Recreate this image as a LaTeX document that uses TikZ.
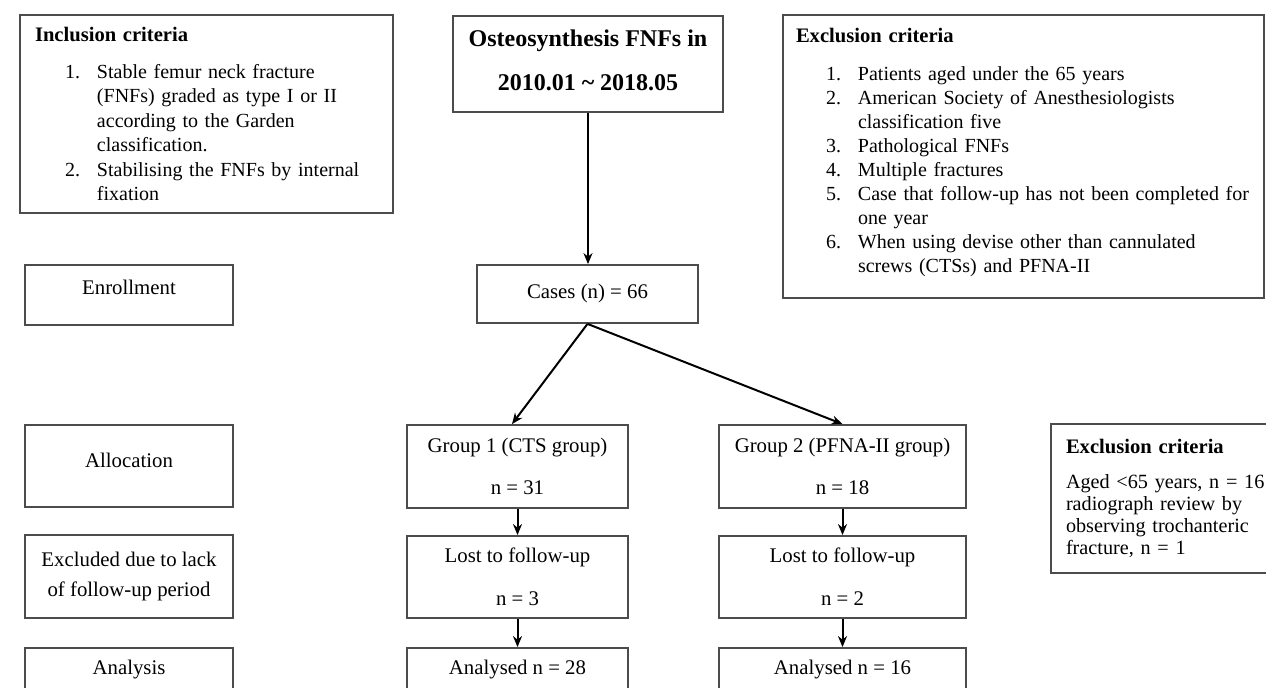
\documentclass[tikz,border=0pt]{standalone}
\usepackage{fontspec}
\setmainfont{Liberation Serif}
\usetikzlibrary{arrows.meta}
\newcommand{\critem}[2]{\mbox{\hspace*{15pt}\makebox[16pt][l]{#1}#2}}
\newcommand{\crcont}[1]{\mbox{\hspace*{31pt}#1}}
\newcommand{\crtitle}[1]{{\fontsize{10.3}{12}\selectfont\textbf{#1}}}
\newcommand{\lift}[1]{\rule[-#1]{0pt}{#1}}
\tikzset{
  box/.style={draw=black!70,line width=0.9pt,inner sep=0pt,align=center},
  crit/.style={box,align=left,inner xsep=7.5pt},
  flow/.style={-{Stealth[length=5.5pt,width=4.5pt]},line width=1pt},
}
\begin{document}
\begin{tikzpicture}[x=0.5pt,y=-0.5pt,font=\fontsize{10.4}{12.25}\selectfont]
  % Coordinates are pixels of the 1266x688 scan, y grows downwards.
  \useasboundingbox (0,0) rectangle (1266,688);
  \clip (0,0) rectangle (1266,688);
  \fill[white] (0,0) rectangle (1266,688);
  \node[crit,text width=171.5pt,minimum height=99pt,font=\fontsize{10}{12.25}\selectfont] (incl) at (206.5,114) {\crtitle{Inclusion criteria}\\[6pt]
    \critem{1.}{Stable femur neck fracture}\\ \crcont{(FNFs) graded as type I or II}\\
    \crcont{according to the Garden}\\ \crcont{classification.}\\
    \critem{2.}{Stabilising the FNFs by internal}\\ \crcont{fixation}};
  \node[box,minimum width=135pt,minimum height=48pt,font=\bfseries\fontsize{12}{22}\selectfont] (ost) at (588,64) {Osteosynthesis FNFs in\\2010.01 \textasciitilde\ 2018.05\lift{4pt}};
  \node[crit,inner xsep=6.5pt,text width=227.5pt,minimum height=141.5pt,font=\fontsize{10}{12}\selectfont] (excl) at (1023.5,156.5) {\crtitle{Exclusion criteria}\\[7pt]
    \critem{1.}{Patients aged under the 65 years}\\ \critem{2.}{American Society of Anesthesiologists}\\
    \crcont{classification five}\\ \critem{3.}{Pathological FNFs}\\ \critem{4.}{Multiple fractures}\\
    \critem{5.}{Case that follow-up has not been completed for}\\ \crcont{one year}\\
    \critem{6.}{When using devise other than cannulated}\\ \crcont{screws (CTSs) and PFNA-II}\lift{6pt}};
  % left column of stages
  \node[box,minimum width=104pt,minimum height=30pt,text depth=8pt] (enrol) at (129,295) {Enrollment};
  \node[box,minimum width=104pt,minimum height=41pt,text depth=6pt] (alloc) at (129,466) {Allocation};
  \node[box,minimum width=104pt,minimum height=41.5pt,font=\fontsize{10.4}{15}\selectfont] (lack) at (129,576.5) {Excluded due to lack\\of follow-up period};
  \node[box,minimum width=104pt,minimum height=21.5pt] (anal) at (129,669.5) {Analysis};
  % flow of cases
  \node[box,minimum width=110.5pt,minimum height=29pt] (cases) at (587.5,294) {Cases (n) = 66};
  \node[box,minimum width=110.5pt,minimum height=41.5pt,font=\fontsize{10.4}{21}\selectfont] (g1) at (517.5,466.5) {Group 1 (CTS group)\\n = 31};
  \node[box,minimum width=110.5pt,minimum height=41pt,font=\fontsize{10.4}{21.5}\selectfont] (lost1) at (517.5,577) {Lost to follow-up\\n = 3};
  \node[box,minimum width=110.5pt,minimum height=21.5pt] (an1) at (517.5,669.5) {Analysed n = 28};
  \node[box,minimum width=123.5pt,minimum height=41.5pt,font=\fontsize{10.4}{21}\selectfont] (g2) at (842.5,466.5) {Group 2 (PFNA-II group)\\n = 18};
  \node[box,minimum width=123.5pt,minimum height=41pt,font=\fontsize{10.4}{21.5}\selectfont] (lost2) at (842.5,577) {Lost to follow-up\\n = 2};
  \node[box,minimum width=123.5pt,minimum height=21.5pt] (an2) at (842.5,669.5) {Analysed n = 16};
  \node[crit,text width=110pt,minimum height=74.5pt,font=\fontsize{10.1}{11}\selectfont] (excl2) at (1176,498.5) {\crtitle{Exclusion criteria}\\[6.5pt]
    Aged <65 years, n = 16\\ radiograph review by\\ observing trochanteric\\ fracture, n = 1};
  \draw[flow] (ost.south) -- (ost.south |- cases.north);
  \draw[flow] (cases.south) -- ([xshift=-2.75pt]g1.north);
  \draw[flow] (cases.south) -- (g2.north);
  \foreach \a/\b in {g1/lost1,lost1/an1,g2/lost2,lost2/an2}{\draw[flow] (\a) -- (\b);}
\end{tikzpicture}
\end{document}
